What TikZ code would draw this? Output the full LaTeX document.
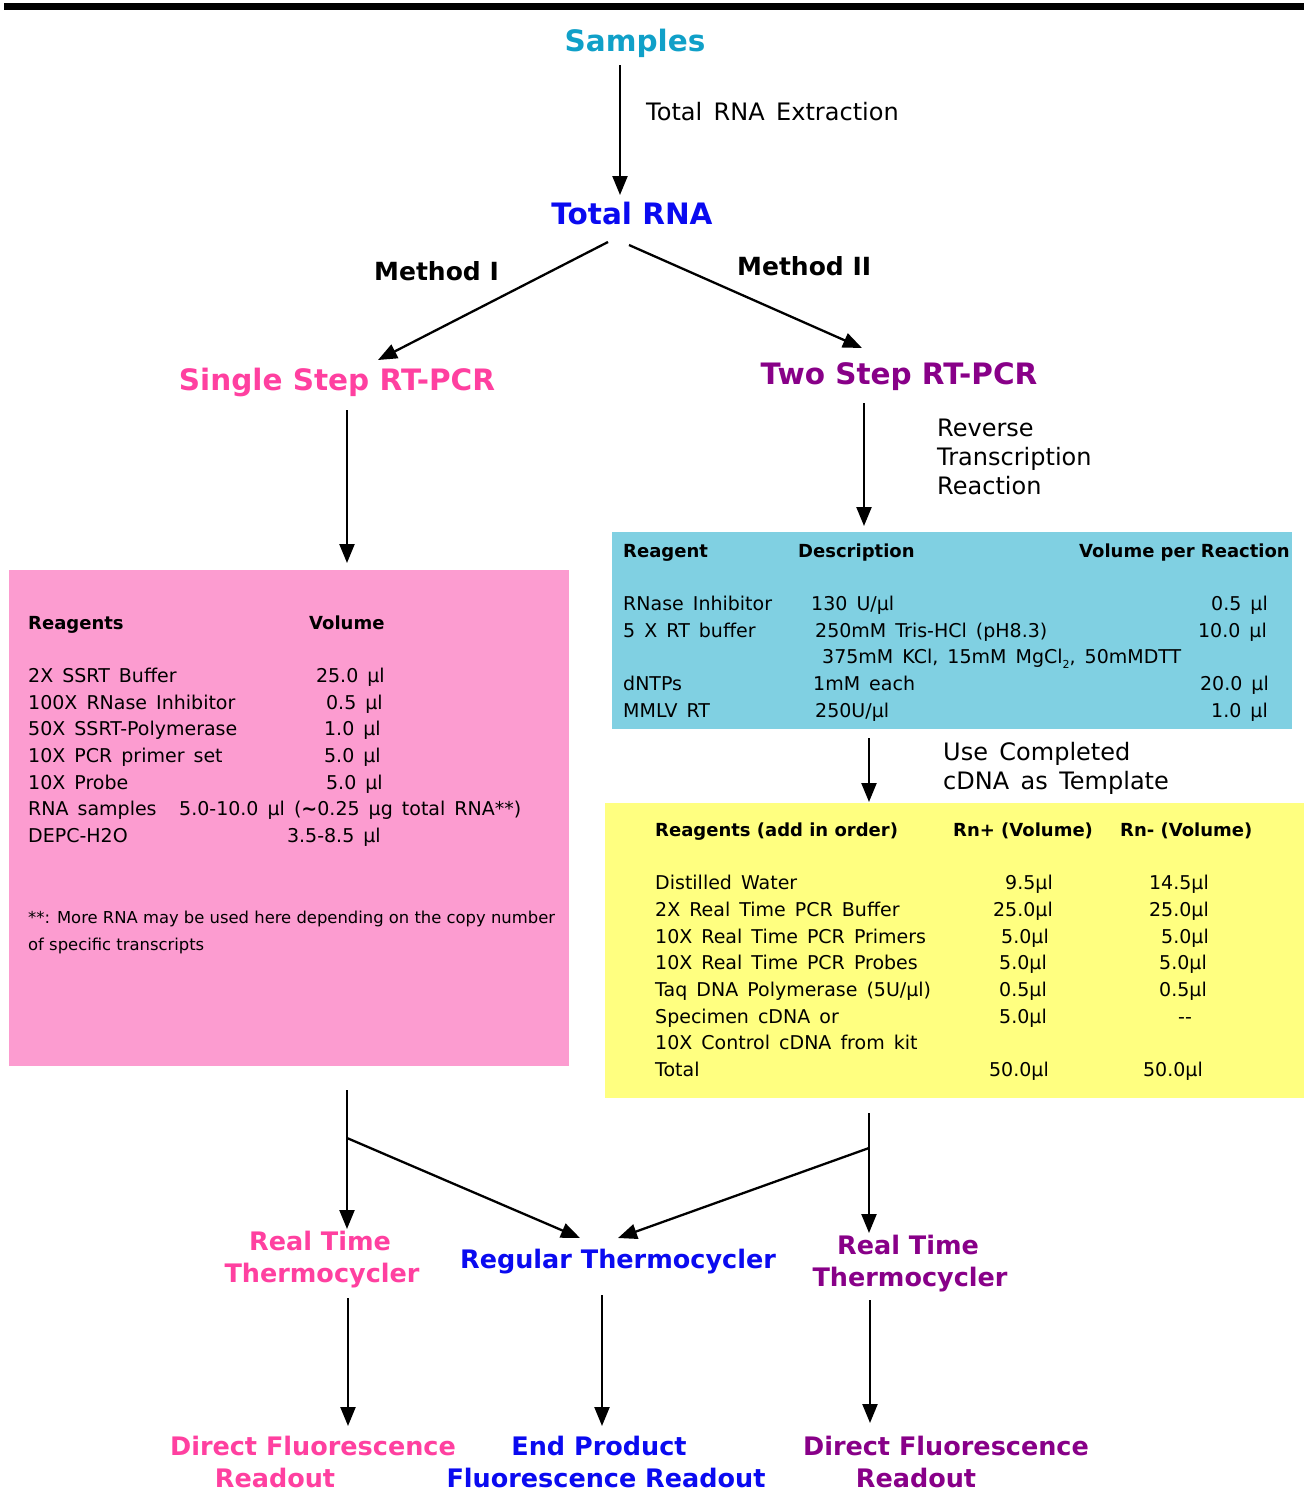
\documentclass[tikz,border=0pt]{standalone}
\usepackage{fontspec}
\setmainfont{DejaVu Sans}
\newfontfamily\wsp{DejaVu Sans}[WordSpace=1.5]
\usetikzlibrary{arrows.meta}
\definecolor{cSamp}{RGB}{16,160,200}
\definecolor{cBlue}{RGB}{10,10,240}
\definecolor{cPink}{RGB}{255,64,160}
\definecolor{cPurp}{RGB}{136,0,136}
\definecolor{bPink}{RGB}{252,156,208}
\definecolor{bBlue}{RGB}{128,208,226}
\definecolor{bYell}{RGB}{255,255,128}
\tikzset{
  hd/.style={inner sep=0pt, font=\bfseries\fontsize{29.5}{35}\selectfont, text height=21.5pt, text depth=0pt},
  sub/.style={inner sep=0pt, font=\bfseries\fontsize{25.5}{30}\selectfont, text height=18.6pt, text depth=0pt},
  meth/.style={inner sep=0pt, anchor=west, font=\bfseries\fontsize{25}{30}\selectfont, text height=18.2pt, text depth=0pt},
  lab/.style={inner sep=0pt, anchor=west, font=\wsp\fontsize{24}{29}\selectfont, text height=17.5pt, text depth=0pt},
  tx/.style={inner sep=0pt, anchor=west, font=\wsp\fontsize{19}{23}\selectfont, text height=13.9pt, text depth=0pt},
  txr/.style={tx, anchor=east},
  txb/.style={inner sep=0pt, anchor=west, font=\bfseries\fontsize{18}{22}\selectfont, text height=13.1pt, text depth=0pt},
  fn/.style={inner sep=0pt, anchor=west, font=\fontsize{16.4}{20}\selectfont, text height=12pt, text depth=0pt},
  arr/.style={line width=2.3pt, -{Triangle[width=15pt,length=19pt]}},
}
\begin{document}
\begin{tikzpicture}[x=1pt,y=-1pt]
\useasboundingbox (0,0) rectangle (1304,1494);
\fill[black] (4,3) rectangle (1304,9.5);

% headings
\node[hd, text=cSamp] (samples) at (635,41) {Samples};
\node[hd, text=cBlue] (totalrna) at (632,214) {Total RNA};
\node[meth] (m1) at (374,271) {Method I};
\node[meth] (m2) at (737,266) {Method II};
\node[hd, text=cPink] (single) at (337,380) {Single Step RT-PCR};
\node[hd, text=cPurp] (two) at (899,374) {Two Step RT-PCR};

\node[lab] (tre) at (646,112) {Total RNA Extraction};
\node[lab] (rv1) at (937,428) {Reverse};
\node[lab] (rv2) at (937,457) {Transcription};
\node[lab] (rv3) at (937,486) {Reaction};
\node[lab] (uc1) at (943,752) {Use Completed};
\node[lab] (uc2) at (943,781) {cDNA as Template};

% arrows top
\coordinate (a1s) at (620,65);  \coordinate (a1e) at (620,195);
\coordinate (a2s) at (608,242); \coordinate (a2e) at (378,360);
\coordinate (a3s) at (629,245); \coordinate (a3e) at (862,348);
\coordinate (a4s) at (347,410); \coordinate (a4e) at (347,563);
\coordinate (a5s) at (864,403); \coordinate (a5e) at (864,526);
\coordinate (a6s) at (869,738); \coordinate (a6e) at (869,802);
\draw[arr] (a1s) -- (a1e);
\draw[arr] (a2s) -- (a2e);
\draw[arr] (a3s) -- (a3e);
\draw[arr] (a4s) -- (a4e);
\draw[arr] (a5s) -- (a5e);
\draw[arr] (a6s) -- (a6e);

% pink box
\fill[bPink] (9,570) rectangle (569,1066);
\node[txb] (p0a) at (28,623) {Reagents};
\node[txb] (p0b) at (309,623) {Volume};
\node[tx] (p1) at (28,676) {2X SSRT Buffer};
\node[txr] (p1v) at (385,676) {25.0 µl};
\node[tx] (p2) at (28,703) {100X RNase Inhibitor};
\node[txr] (p2v) at (383,703) {0.5 µl};
\node[tx] (p3) at (28,729) {50X SSRT-Polymerase};
\node[txr] (p3v) at (381,729) {1.0 µl};
\node[tx] (p4) at (28,756) {10X PCR primer set};
\node[txr] (p4v) at (381,756) {5.0 µl};
\node[tx] (p5) at (28,783) {10X Probe};
\node[txr] (p5v) at (383,783) {5.0 µl};
\node[tx] (p6) at (28,809) {RNA samples};
\node[tx] (p6v) at (179,809) {5.0-10.0 µl (\textbf{\textasciitilde}0.25 µg total RNA**)};
\node[tx] (p7) at (28,836) {DEPC-H2O};
\node[txr] (p7v) at (381,836) {3.5-8.5 µl};
\node[fn] (pf1) at (28,917) {**: More RNA may be used here depending on the copy number};
\node[fn] (pf2) at (28,944) {of specific transcripts};

% blue box
\fill[bBlue] (612,532) rectangle (1292,729);
\node[txb] (b0a) at (623,551) {Reagent};
\node[txb] (b0b) at (798,551) {Description};
\node[txb, anchor=east] (b0c) at (1290,551) {Volume per Reaction};
\node[tx] (b1) at (623,604) {RNase Inhibitor};
\node[tx] (b1d) at (811,604) {130 U/µl};
\node[txr] (b1v) at (1268,604) {0.5 µl};
\node[tx] (b2) at (623,631) {5 X RT buffer};
\node[tx] (b2d) at (815,631) {250mM Tris-HCl (pH8.3)};
\node[txr] (b2v) at (1267,631) {10.0 µl};
\node[tx] (b3d) at (822,657) {375mM KCl, 15mM MgCl\raisebox{-0.45ex}{\fontsize{11}{12}\selectfont 2}, 50mMDTT};
\node[tx] (b4) at (623,684) {dNTPs};
\node[tx] (b4d) at (813,684) {1mM each};
\node[txr] (b4v) at (1269,684) {20.0 µl};
\node[tx] (b5) at (623,711) {MMLV RT};
\node[tx] (b5d) at (815,711) {250U/µl};
\node[txr] (b5v) at (1268,711) {1.0 µl};

% yellow box
\fill[bYell] (605,803) rectangle (1304,1098);
\node[txb] (y0a) at (655,830) {Reagents (add in order)};
\node[txb] (y0b) at (953,830) {Rn+ (Volume)};
\node[txb] (y0c) at (1120,830) {Rn- (Volume)};
\node[tx] (y1) at (655,883) {Distilled Water};
\node[txr] (y1a) at (1053,883) {9.5µl};
\node[txr] (y1b) at (1209,883) {14.5µl};
\node[tx] (y2) at (655,910) {2X Real Time PCR Buffer};
\node[txr] (y2a) at (1053,910) {25.0µl};
\node[txr] (y2b) at (1209,910) {25.0µl};
\node[tx] (y3) at (655,937) {10X Real Time PCR Primers};
\node[txr] (y3a) at (1049,937) {5.0µl};
\node[txr] (y3b) at (1209,937) {5.0µl};
\node[tx] (y4) at (655,963) {10X Real Time PCR Probes};
\node[txr] (y4a) at (1047,963) {5.0µl};
\node[txr] (y4b) at (1207,963) {5.0µl};
\node[tx] (y5) at (655,990) {Taq DNA Polymerase (5U/µl)};
\node[txr] (y5a) at (1047,990) {0.5µl};
\node[txr] (y5b) at (1207,990) {0.5µl};
\node[tx] (y6) at (655,1017) {Specimen cDNA or};
\node[txr] (y6a) at (1047,1017) {5.0µl};
\node[tx, anchor=center] (y6b) at (1185,1017) {--};
\node[tx] (y7) at (655,1043) {10X Control cDNA from kit};
\node[tx] (y8) at (655,1070) {Total};
\node[txr] (y8a) at (1049,1070) {50.0µl};
\node[txr] (y8b) at (1203,1070) {50.0µl};

% bottom connectors
\coordinate (l0) at (347,1090); \coordinate (lb) at (347,1138); \coordinate (le) at (347,1229);
\coordinate (lm) at (580,1238);
\coordinate (r0) at (869,1113); \coordinate (rb) at (869,1148); \coordinate (re) at (869,1233);
\coordinate (rm) at (618,1238);
\draw[arr] (l0) -- (le);
\draw[arr] (lb) -- (lm);
\draw[arr] (r0) -- (re);
\draw[arr] (rb) -- (rm);

% bottom labels
\node[sub, text=cPink] (rt1a) at (320,1241) {Real Time};
\node[sub, text=cPink] (rt1b) at (322,1273) {Thermocycler};
\node[sub, text=cBlue] (reg) at (618,1259) {Regular Thermocycler};
\node[sub, text=cPurp] (rt2a) at (908,1245) {Real Time};
\node[sub, text=cPurp] (rt2b) at (910,1277) {Thermocycler};

\coordinate (d1s) at (348,1298); \coordinate (d1e) at (348,1426);
\coordinate (d2s) at (602,1295); \coordinate (d2e) at (602,1426);
\coordinate (d3s) at (870,1300); \coordinate (d3e) at (870,1423);
\draw[arr] (d1s) -- (d1e);
\draw[arr] (d2s) -- (d2e);
\draw[arr] (d3s) -- (d3e);

\node[sub, text=cPink] (df1a) at (313,1446) {Direct Fluorescence};
\node[sub, text=cPink] (df1b) at (275,1478) {Readout};
\node[sub, text=cBlue] (ep1) at (599,1446) {End Product};
\node[sub, text=cBlue] (ep2) at (606,1478) {Fluorescence Readout};
\node[sub, text=cPurp] (df2a) at (946,1446) {Direct Fluorescence};
\node[sub, text=cPurp] (df2b) at (916,1478) {Readout};
\end{tikzpicture}
\end{document}
